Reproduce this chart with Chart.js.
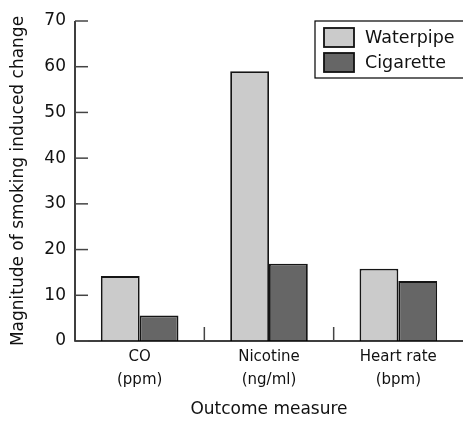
<!DOCTYPE html>
<html>
<head>
<meta charset="utf-8">
<script src="https://cdn.jsdelivr.net/npm/chart.js@4"></script>
<style>
  html, body { margin: 0; padding: 0; background: #fff; }
  #wrap { width: 463px; height: 421px; }
</style>
</head>
<body>
<div id="wrap"><canvas id="chart" width="463" height="421"></canvas></div>
<script>
// data
const categories = [['CO', '(ppm)'], ['Nicotine', '(ng/ml)'], ['Heart rate', '(bpm)']];
const seriesNames = ['Waterpipe', 'Cigarette'];
const waterpipe = [14.2, 59, 15.8];
const cigarette = [5.6, 16.9, 13.1];
const yTicks = [0, 10, 20, 30, 40, 50, 60, 70];

const FONT = '"DejaVu Sans"';
const colours = ['#cbcbcb', '#666666'];

// inward tick marks, category separators and the boxed legend
const extras = {
  id: 'extras',
  afterDraw(chart) {
    const ctx = chart.ctx;
    const x = chart.scales.x, y = chart.scales.y;
    const area = chart.chartArea;
    ctx.save();
    ctx.strokeStyle = '#000';
    ctx.lineWidth = 1.5;
    // axis lines
    ctx.beginPath();
    ctx.moveTo(area.left, area.top);
    ctx.lineTo(area.left, area.bottom);
    ctx.lineTo(area.right, area.bottom);
    ctx.stroke();
    // y ticks
    ctx.strokeStyle = '#444';
    yTicks.forEach(v => {
      const py = y.getPixelForValue(v);
      ctx.beginPath();
      ctx.moveTo(area.left, py);
      ctx.lineTo(area.left + 13, py);
      ctx.stroke();
    });
    // separators between categories
    for (let i = 0; i < categories.length - 1; i++) {
      const px = (x.getPixelForValue(i) + x.getPixelForValue(i + 1)) / 2;
      ctx.beginPath();
      ctx.moveTo(px, area.bottom);
      ctx.lineTo(px, area.bottom - 14);
      ctx.stroke();
    }
    // legend
    ctx.strokeStyle = '#000';
    ctx.lineWidth = 1.2;
    ctx.strokeRect(315, 21, 152, 57);
    ctx.font = '17.5px ' + FONT;
    ctx.textBaseline = 'middle';
    chart.data.datasets.forEach((ds, i) => {
      const top = 28 + i * 25;
      ctx.fillStyle = ds.backgroundColor;
      ctx.fillRect(324, top, 30, 19);
      ctx.strokeStyle = '#111';
      ctx.lineWidth = 1.8;
      ctx.strokeRect(324, top, 30, 19);
      ctx.fillStyle = '#111';
      ctx.fillText(ds.label, 365, top + 10);
    });
    ctx.restore();
  }
};

new Chart(document.getElementById('chart'), {
  type: 'bar',
  data: {
    labels: categories,
    datasets: [
      { label: seriesNames[0], data: waterpipe, backgroundColor: colours[0] },
      { label: seriesNames[1], data: cigarette, backgroundColor: colours[1] }
    ]
  },
  options: {
    responsive: false,
    animation: false,
    layout: { padding: { top: 21, right: 0, left: 0, bottom: 0 } },
    datasets: {
      bar: {
        categoryPercentage: 0.6,
        barPercentage: 1,
        borderColor: '#151515',
        borderWidth: 1.8
      }
    },
    plugins: {
      legend: { display: false },
      tooltip: { enabled: false }
    },
    scales: {
      x: {
        grid: { display: false, drawTicks: false },
        border: { display: false },
        afterFit(s) { s.height = 80; },
        ticks: {
          color: '#111',
          padding: 5,
          font: { family: FONT, size: 15, lineHeight: 1.5 },
          maxRotation: 0
        },
        title: {
          display: true,
          text: 'Outcome measure',
          color: '#111',
          font: { family: FONT, size: 17 },
          padding: { top: 0, bottom: 1 }
        }
      },
      y: {
        min: 0,
        max: 70,
        afterFit(s) { s.width = 75; },
        afterBuildTicks(s) { s.ticks = yTicks.map(v => ({ value: v })); },
        grid: { display: false, drawTicks: false },
        border: { display: false },
        ticks: {
          color: '#111',
          padding: 9,
          font: { family: FONT, size: 17 }
        },
        title: {
          display: true,
          text: 'Magnitude of smoking induced change',
          color: '#111',
          font: { family: FONT, size: 17 },
          padding: { top: 8, bottom: 0 }
        }
      }
    }
  },
  plugins: [extras]
});
</script>
</body>
</html>
